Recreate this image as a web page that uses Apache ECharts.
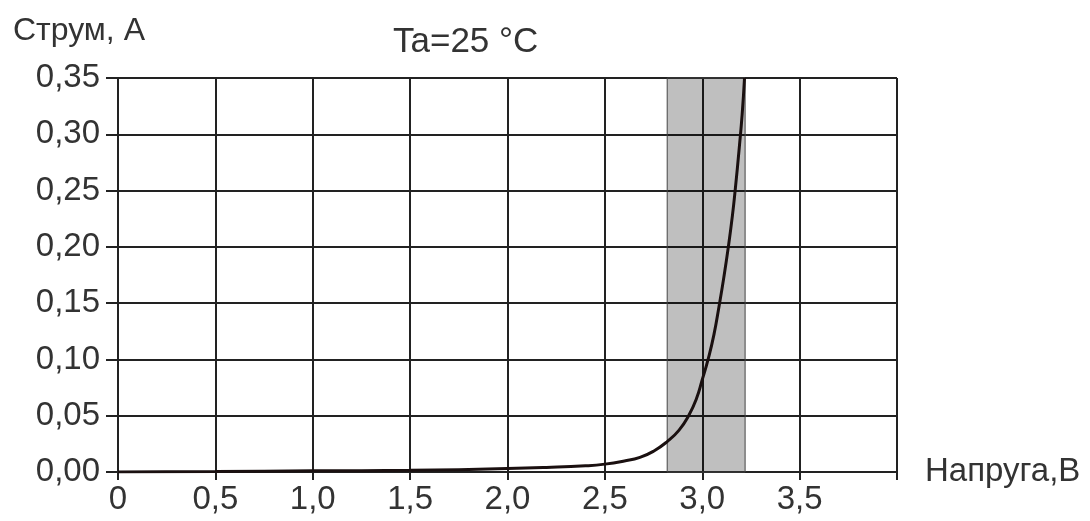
<!DOCTYPE html>
<html>
<head>
<meta charset="utf-8">
<script src="https://cdn.jsdelivr.net/npm/echarts@6/dist/echarts.min.js"></script>
<style>
  html, body { margin: 0; padding: 0; background: #fff; }
  #chart { width: 1090px; height: 521px; }
</style>
</head>
<body>
<div id="chart"></div>
<script>
// напруга, В
var voltage = [0, 0.5, 1.0, 1.5, 2.0, 2.2, 2.4, 2.5, 2.6, 2.68, 2.75, 2.82, 2.88, 2.93, 2.97, 3.0, 3.03, 3.06, 3.087, 3.11, 3.134, 3.155, 3.17, 3.19, 3.205, 3.217]
// струм, А
var current = [0, 0.0004, 0.001, 0.0015, 0.003, 0.004, 0.0055, 0.007, 0.0098, 0.013, 0.0185, 0.027, 0.037, 0.050, 0.065, 0.082, 0.100, 0.122, 0.148, 0.172, 0.200, 0.228, 0.252, 0.288, 0.318, 0.350]
// робочий діапазон (сіра смуга)
var bandRange = [2.82, 3.22]

var titleText = 'Ta=25 °C'
var yName = 'Струм, А'
var xName = 'Напруга,В'

var points = voltage.map(function (v, i) { return [v, current[i]] })

var font = 'Liberation Sans, Arial, sans-serif'
var textColor = '#333'
var lineColor = '#222'

var chart = echarts.init(document.getElementById('chart'))
chart.setOption({
  backgroundColor: '#fff',
  animation: false,
  title: [{
    text: titleText,
    left: 388,
    top: 20,
    textStyle: { color: textColor, fontSize: 35, fontWeight: 'normal', fontFamily: font }
  }, {
    text: yName,
    left: 8,
    top: 10,
    textStyle: { color: textColor, fontSize: 32, fontWeight: 'normal', fontFamily: font }
  }],
  grid: {
    left: 118,
    right: 193,
    top: 78,
    bottom: 49
  },
  xAxis: {
    type: 'value',
    min: 0,
    max: 4,
    interval: 0.5,
    name: xName,
    nameLocation: 'end',
    nameGap: 28,
    nameTextStyle: { color: textColor, fontSize: 33, fontFamily: font, padding: [0, 0, 56, 0] },
    axisLine: { show: true, lineStyle: { color: lineColor, width: 2 } },
    axisTick: { show: true, length: 8, lineStyle: { color: lineColor, width: 2 } },
    axisLabel: {
      color: textColor,
      fontSize: 33,
      fontFamily: font,
      margin: 11,
      formatter: function (v) {
        if (v === 0) return '0'
        if (v >= 4) return ''
        return v.toFixed(1).replace('.', ',')
      }
    },
    splitLine: { show: true, lineStyle: { color: lineColor, width: 2 } }
  },
  yAxis: {
    type: 'value',
    min: 0,
    max: 0.35,
    interval: 0.05,
    axisLine: { show: true, lineStyle: { color: lineColor, width: 2 } },
    axisTick: { show: true, length: 12, lineStyle: { color: lineColor, width: 2 } },
    axisLabel: {
      color: textColor,
      fontSize: 33,
      fontFamily: font,
      margin: 18,
      formatter: function (v) { return v.toFixed(2).replace('.', ',') }
    },
    splitLine: { show: true, lineStyle: { color: lineColor, width: 2 } }
  },
  series: [{
    type: 'line',
    data: points,
    smooth: 0.5,
    showSymbol: false,
    lineStyle: { color: '#1a1010', width: 3 },
    markArea: {
      silent: true,
      itemStyle: { color: 'rgba(0,0,0,0.25)', borderColor: '#444', borderWidth: 1 },
      data: [[{ xAxis: bandRange[0] }, { xAxis: bandRange[1] }]]
    }
  }]
})
</script>
</body>
</html>
